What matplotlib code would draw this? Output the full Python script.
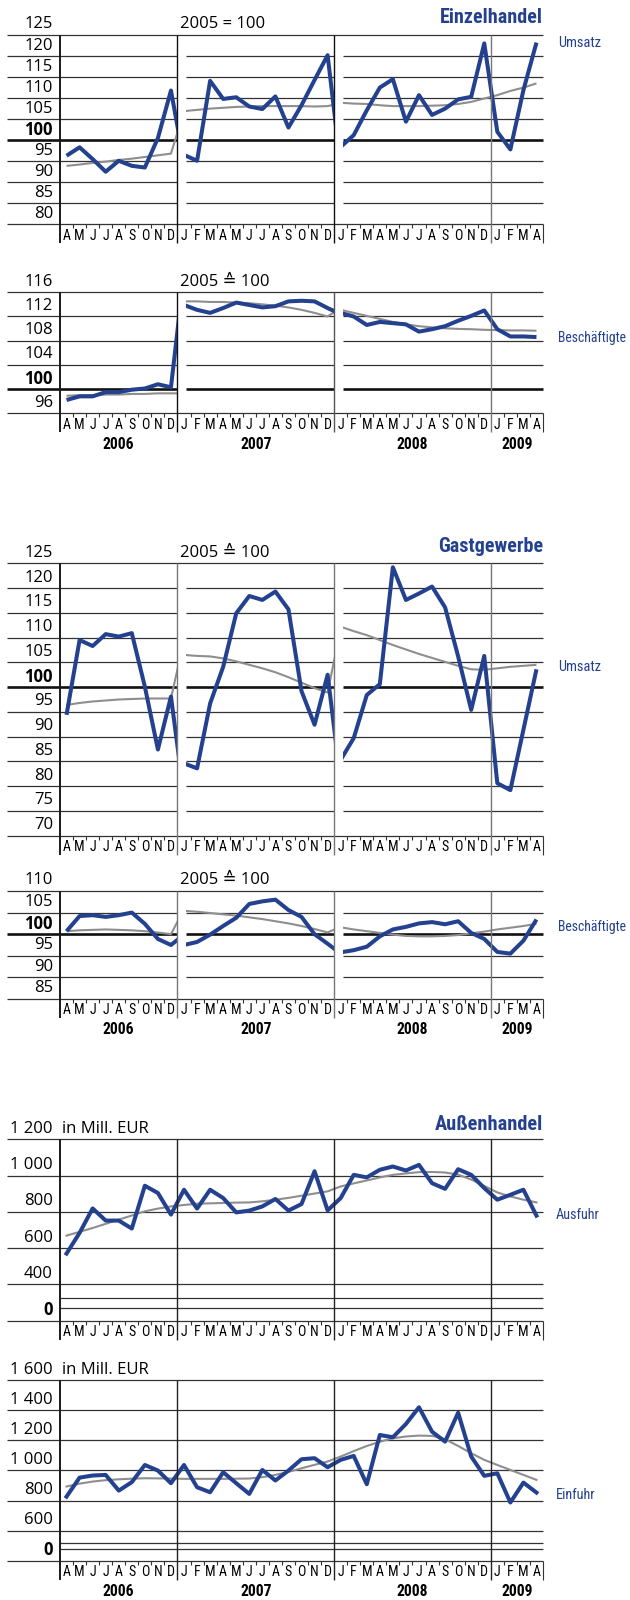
import matplotlib
matplotlib.use('Agg')
import matplotlib.pyplot as plt
from matplotlib.patches import Rectangle
from matplotlib import font_manager as fm

# ---- data, months Apr 2006 .. Apr 2009 ----
months = list('AMJJASOND') + list('JFMAMJJASOND') * 2 + list('JFMA')
years = ['2006', '2007', '2008', '2009']
year_len = [9, 12, 12, 4]

# Einzelhandel, 2005 = 100
ez_umsatz = [96.3, 98.3, 95.5, 92.5, 95.1, 93.9, 93.5, 100.5, 111.8,
             96.5, 95.1, 114.1, 109.8, 110.2, 108.0, 107.4, 110.4, 103.0, 108.3, 114.3, 120.2,
             98.4, 101.2, 107.1, 112.5, 114.5, 104.4, 110.7, 106.0, 107.5, 109.7, 110.3, 123.0,
             102.0, 97.8, 111.9, 123.2]
ez_umsatz_link = [94.8, 93.8]
ez_umsatz_trend = [93.9, 94.2, 94.6, 94.9, 95.3, 95.6, 96.0, 96.4, 96.8,
                   106.9, 107.2, 107.5, 107.7, 107.9, 108.0, 108.1, 108.1, 108.1, 108.1, 108.0, 108.1,
                   108.9, 108.7, 108.6, 108.3, 108.1, 108.1, 108.1, 108.2, 108.3, 108.6, 109.1, 109.9,
                   110.7, 111.7, 112.5, 113.5]
ez_umsatz_trend_link = [106.9, 108.8]

ez_besch = [98.2, 98.8, 98.8, 99.5, 99.5, 99.9, 100.1, 100.8, 100.3,
            113.9, 113.1, 112.6, 113.4, 114.3, 113.9, 113.5, 113.7, 114.5, 114.6, 114.5, 113.4,
            112.6, 112.0, 110.6, 111.1, 110.9, 110.7, 109.5, 109.9, 110.4, 111.3, 112.1, 113.0,
            109.9, 108.7, 108.7, 108.6]
ez_besch_link = [119.0, 112.4]
ez_besch_trend = [98.9, 99.0, 99.0, 99.1, 99.1, 99.2, 99.2, 99.3, 99.3,
                  114.5, 114.5, 114.4, 114.4, 114.3, 114.2, 114.0, 113.8, 113.5, 113.1, 112.6, 112.0,
                  113.1, 112.6, 112.1, 111.6, 111.1, 110.7, 110.4, 110.2, 110.05, 109.95, 109.9, 109.8,
                  109.75, 109.7, 109.7, 109.65]
ez_besch_trend_link = [99.3, 113.4]

# Gastgewerbe, 2005 = 100
gg_umsatz = [94.4, 109.5, 108.3, 110.7, 110.2, 110.9, 100.1, 87.4, 98.1,
             84.6, 83.6, 96.7, 104.1, 114.9, 118.4, 117.6, 119.3, 115.7, 99.2, 92.4, 102.5,
             85.3, 89.7, 98.4, 100.6, 124.2, 117.6, 118.9, 120.3, 116.1, 106.2, 95.4, 106.3,
             80.6, 79.2, 91.4, 103.6]
gg_umsatz_link = [78.0, 81.0]
gg_umsatz_trend = [96.4, 96.8, 97.1, 97.3, 97.5, 97.6, 97.7, 97.7, 97.7,
                   106.5, 106.3, 106.2, 105.8, 105.2, 104.5, 103.8, 103.0, 102.0, 100.9, 99.8, 98.9,
                   112.2, 111.3, 110.5, 109.5, 108.5, 107.6, 106.7, 105.9, 105.1, 104.3, 103.6, 103.5,
                   103.8, 104.1, 104.3, 104.5]
gg_umsatz_trend_link = [109.5, 111.8]

gg_besch = [100.7, 104.2, 104.4, 104.0, 104.4, 105.0, 102.4, 98.9, 97.5,
            97.5, 98.2, 99.9, 101.9, 103.8, 107.0, 107.6, 108.0, 105.6, 104.0, 100.0, 97.8,
            95.8, 96.3, 97.1, 99.5, 101.1, 101.7, 102.5, 102.8, 102.3, 103.0, 100.3, 98.9,
            95.9, 95.5, 98.5, 103.4]
gg_besch_link = [99.9, 95.5]
gg_besch_trend = [100.7, 100.9, 101.0, 101.1, 101.0, 100.9, 100.7, 100.4, 100.0,
                  105.4, 105.2, 104.9, 104.6, 104.3, 103.9, 103.5, 103.0, 102.5, 101.9, 101.2, 100.4,
                  101.6, 101.1, 100.7, 100.3, 99.9, 99.6, 99.5, 99.5, 99.6, 99.8, 100.2, 100.6,
                  101.1, 101.5, 101.9, 102.4]
gg_besch_trend_link = [105.8, 101.7]

# Aussenhandel, Mill. EUR
ausfuhr = [570, 684, 819, 752, 752, 708, 944, 904, 785,
           922, 818, 922, 876, 797, 807, 830, 871, 807, 843, 1024, 808,
           876, 1004, 990, 1032, 1050, 1028, 1059, 958, 927, 1035, 1004, 931,
           867, 894, 922, 779]
ausfuhr_trend = [669, 690, 711, 734, 757, 780, 803, 818, 830,
                 838, 845, 847, 849, 851, 852, 858, 867, 877, 889, 901, 913,
                 940, 957, 973, 990, 1004, 1012, 1019, 1020, 1017, 1005, 978, 943,
                 907, 885, 867, 852]
einfuhr = [826, 952, 966, 970, 866, 922, 1036, 999, 915,
           1036, 888, 855, 988, 915, 844, 1003, 933, 999, 1074, 1081, 1021,
           1070, 1096, 908, 1235, 1220, 1308, 1419, 1257, 1191, 1383, 1092, 964,
           981, 787, 919, 853]
einfuhr_trend = [893, 912, 926, 935, 941, 945, 948, 947, 946,
                 944, 944, 944, 944, 945, 946, 955, 970, 990, 1014, 1037, 1059,
                 1092, 1128, 1162, 1190, 1213, 1225, 1231, 1229, 1207, 1162, 1114, 1070,
                 1036, 1003, 970, 937]

# ---- style ----
BLUE = '#24418F'
TREND = '#8E8E8E'
GRID = '#333333'
REG = ['Open Sans', 'DejaVu Sans']


def pick_narrow():
    names = {f.name for f in fm.fontManager.ttflist}
    for n in ['Liberation Sans Narrow', 'Roboto Condensed', 'Open Sans Condensed',
              'Noto Sans Condensed', 'DejaVu Sans Condensed', 'Arial Narrow']:
        if n in names:
            return n, 'normal'
    for f in fm.fontManager.ttflist:
        if f.stretch in ('condensed', 'semi-condensed', 'extra-condensed', 500) \
                or 'Condensed' in f.fname or 'Narrow' in f.fname:
            if 'Mono' not in f.name and 'Serif' not in f.name:
                return f.name, 'condensed'
    return 'Roboto', 'normal'


NARROW_NAME, NARROW_STRETCH = pick_narrow()
NARROW = [NARROW_NAME, 'DejaVu Sans']
NKW = dict(family=NARROW, fontstretch=NARROW_STRETCH)

W, H = 630, 1600
X0, X1 = 60, 543
NM = len(months)
PXM = (X1 - X0) / NM
XL = -(X0 - 7) / PXM
GAP1, GAP2 = 9.65, 21.68
SEPS = [9, 21, 33]

fig = plt.figure(figsize=(W / 100, H / 100), dpi=100)
renderer = fig.canvas.get_renderer()


def fit(t, target_w):
    # scale the font so the text gets the width it has in the reference
    w = t.get_window_extent(renderer).width
    if w > 0:
        t.set_fontsize(t.get_fontsize() * target_w / w)
    return t


def narrow_size(sample, target_w, size):
    t = fig.text(0, 0, sample, fontsize=size, fontweight='bold', **NKW)
    fit(t, target_w)
    s = t.get_fontsize()
    t.remove()
    return s


MONTH_SIZE = 10
YEAR_SIZE = min(12.5, narrow_size('2006', 32, 12.5))


def ftext(x, y, s, target_w=None, **kw):
    t = fig.text(x / W, 1 - y / H, s, **kw)
    if target_w:
        fit(t, target_w)
    return t


def panel(top, bottom, vtop, vbot):
    ax = fig.add_axes([X0 / W, 1 - bottom / H, (X1 - X0) / W, (bottom - top) / H])
    ax.set_xlim(0, NM)
    ax.set_ylim(vbot, vtop)
    ax.axis('off')
    return ax, (vtop - vbot) / (bottom - top)


def ylabel(ax, v, vpp, s, bold=False):
    ax.text(-7 / PXM, v + 10.5 * vpp, s, ha='right', va='center', fontsize=12,
            family=REG, fontweight='bold' if bold else 'normal', clip_on=False)


def year_row(ax, vbot, vpp):
    start = 0
    for y, n in zip(years, year_len):
        ax.text(start + n / 2, vbot - 31 * vpp, y, ha='center', va='center',
                fontsize=YEAR_SIZE, fontweight='bold', clip_on=False, **NKW)
        start += n


def month_row(ax, vbot, vpp, sep_colors):
    for i, m in enumerate(months):
        ax.text(i + 0.5, vbot - 11.5 * vpp, m, ha='center', va='center', fontsize=MONTH_SIZE,
                clip_on=False, **NKW)
    small = [i for i in range(1, NM) if i not in SEPS]
    ax.vlines(small, vbot - 4 * vpp, vbot, color=GRID, lw=0.8, clip_on=False)
    ax.vlines([NM], vbot - 19 * vpp, vbot, color=GRID, lw=0.8, clip_on=False)
    ax.vlines([0], vbot - 19 * vpp, ax.get_ylim()[1], color='#1a1a1a', lw=1.4,
              clip_on=False, zorder=5)
    for s, c in zip(SEPS, sep_colors):
        ax.vlines([s], vbot - 19 * vpp, ax.get_ylim()[1], color=c, lw=1.0,
                  clip_on=False, zorder=5)


def split_line(ax, vals, links, color, lw, z):
    parts = [(0, 9, 0.0, 9.0), (9, 21, GAP1, 21.0), (21, NM, GAP2, float(NM))]
    for k, (i0, i1, c0, c1) in enumerate(parts):
        xs = [i + 0.5 for i in range(i0, i1)]
        ys = list(vals[i0:i1])
        if k < 2:
            xs.append(i1 + 0.5)
            ys.append(links[k])
        ln, = ax.plot(xs, ys, color=color, lw=lw, zorder=z, solid_capstyle='butt')
        ln.set_clip_path(Rectangle((c0, -1e4), c1 - c0, 2e4, transform=ax.transData))


def index_panel(top, bottom, vtop, vbot, step, base_txt, series, sep_colors, with_years):
    ax, vpp = panel(top, bottom, vtop, vbot)
    v = vbot
    while v <= vtop:
        bold = v == 100
        lw = 1.9 if bold else 0.9
        col = '#111111' if bold else GRID
        if v in (vtop, vbot):
            ax.hlines(v, XL, NM, color=col, lw=lw, clip_on=False)
        else:
            for a, b in [(XL, 9), (GAP1, 21), (GAP2, NM)]:
                ax.hlines(v, a, b, color=col, lw=lw, clip_on=False)
        ylabel(ax, v, vpp, str(v), bold)
        v += step
    ax.text((180 - X0) / PXM, vtop + 10.5 * vpp, base_txt, ha='left', va='center',
            fontsize=12, family=REG, clip_on=False)
    blue, blue_link, trend, trend_link = series
    split_line(ax, trend, trend_link, TREND, 1.5, 3)
    split_line(ax, blue, blue_link, BLUE, 2.9, 4)
    month_row(ax, vbot, vpp, sep_colors)
    if with_years:
        year_row(ax, vbot, vpp)
    return ax


def trade_panel(top, bottom, vtop, vbot, grid_vals, tick_labels, breaks, blue, trend,
                with_years):
    ax, vpp = panel(top, bottom, vtop, vbot)
    for v in grid_vals + [vbot]:
        ax.hlines(v, XL, NM, color=GRID, lw=0.9, clip_on=False)
    for v in breaks:
        ax.hlines(v, 0, NM, color=GRID, lw=0.9, clip_on=False)
    for v, s in zip(grid_vals + [vbot], tick_labels):
        ylabel(ax, v, vpp, s, bold=(s == '0'))
    ax.text(2 / PXM, vtop + 10.5 * vpp, 'in Mill. EUR', ha='left', va='center',
            fontsize=12, family=REG, clip_on=False)
    xs = [i + 0.5 for i in range(NM)]
    ax.plot(xs, trend, color=TREND, lw=1.5, zorder=3)
    ax.plot(xs, blue, color=BLUE, lw=2.9, zorder=4)
    month_row(ax, vbot, vpp, ['#222222'] * 3)
    if with_years:
        year_row(ax, vbot, vpp)
    return ax


TITLE = dict(ha='right', va='center', fontsize=15.5, fontweight='bold', color=BLUE, **NKW)
SIDE = dict(ha='left', va='center', fontsize=11.5, color=BLUE, **NKW)

# Einzelhandel
index_panel(35, 224.3, 125, 80, 5, '2005 = 100',
            (ez_umsatz, ez_umsatz_link, ez_umsatz_trend, ez_umsatz_trend_link),
            ['#111111', '#111111', '#777777'], False)
index_panel(292.3, 413.3, 116, 96, 4, '2005 \u2259 100',
            (ez_besch, ez_besch_link, ez_besch_trend, ez_besch_trend_link),
            ['#111111', '#555555', '#777777'], True)
ftext(543, 17.5, 'Einzelhandel', 103, **TITLE)
ftext(558, 43, 'Umsatz', 43, **SIDE)
ftext(558, 338, 'Besch\u00e4ftigte', 69, **SIDE)

# Gastgewerbe
index_panel(563.3, 835.7, 125, 70, 5, '2005 \u2259 100',
            (gg_umsatz, gg_umsatz_link, gg_umsatz_trend, gg_umsatz_trend_link),
            ['#777777'] * 3, False)
index_panel(891, 999, 110, 85, 5, '2005 \u2259 100',
            (gg_besch, gg_besch_link, gg_besch_trend, gg_besch_trend_link),
            ['#777777'] * 3, True)
ftext(543, 547, 'Gastgewerbe', 105, **TITLE)
ftext(558, 667, 'Umsatz', 43, **SIDE)
ftext(558, 927, 'Besch\u00e4ftigte', 69, **SIDE)

# Aussenhandel
trade_panel(1139.3, 1320.7, 1200, 200, [1200, 1000, 800, 600, 400],
            ['1 200', '1 000', '800', '600', '400', '0'], [325, 268], ausfuhr, ausfuhr_trend,
            False)
trade_panel(1380, 1560.8, 1600, 400, [1600, 1400, 1200, 1000, 800, 600],
            ['1 600', '1 400', '1 200', '1 000', '800', '600', '0'], [520, 481],
            einfuhr, einfuhr_trend, True)
ftext(543, 1124, 'Au\u00dfenhandel', 108, **TITLE)
ftext(556, 1215, 'Ausfuhr', 44, **SIDE)
ftext(556, 1495, 'Einfuhr', 40, **SIDE)

fig.savefig('out.png', dpi=100)
